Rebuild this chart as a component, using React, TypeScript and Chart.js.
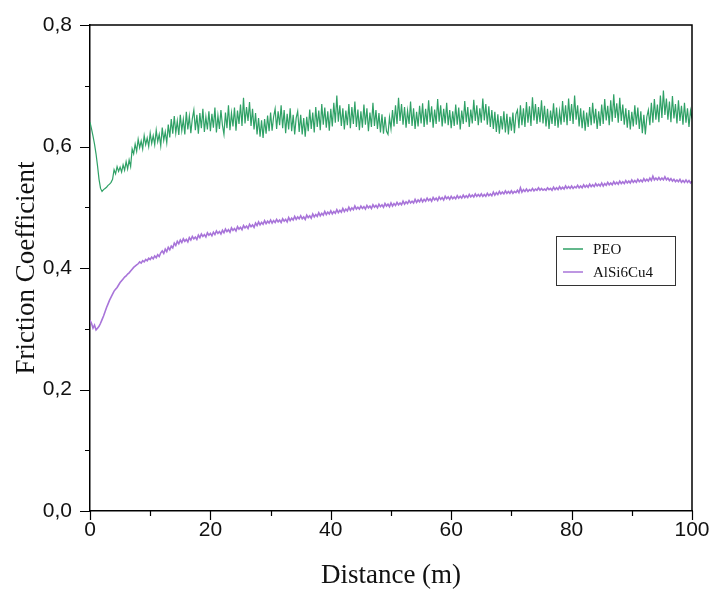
import { useEffect, useRef } from "react";
import { Chart, registerables } from "chart.js";

Chart.register(...registerables);

// Sampling step of the distance axis (m) for the series below
const SAMPLE_STEP_M = 0.25;

const seriesLabels = ["PEO", "AlSi6Cu4"];
const seriesColors = ["#2fa166", "#a874d9"];

// PEO friction coefficient, one value every 0.25 m from 0 to 100 m
const peoValues = [
  0.640, 0.629, 0.617, 0.604, 0.588, 0.568, 0.546, 0.531, 0.526, 0.529, 0.531, 0.533, 0.536, 0.538, 0.541, 0.546, 0.562, 0.555, 0.567, 0.559,
  0.566, 0.558, 0.570, 0.561, 0.575, 0.563, 0.578, 0.567, 0.596, 0.588, 0.604, 0.592, 0.612, 0.598, 0.609, 0.596, 0.618, 0.603, 0.614, 0.600,
  0.622, 0.605, 0.618, 0.603, 0.627, 0.608, 0.620, 0.601, 0.631, 0.610, 0.624, 0.606, 0.636, 0.615, 0.645, 0.621, 0.650, 0.622, 0.642, 0.619,
  0.652, 0.626, 0.645, 0.620, 0.657, 0.628, 0.650, 0.622, 0.646, 0.660, 0.627, 0.652, 0.621, 0.655, 0.630, 0.662, 0.624, 0.649, 0.628, 0.658,
  0.625, 0.654, 0.631, 0.664, 0.623, 0.651, 0.629, 0.660, 0.635, 0.620, 0.656, 0.630, 0.668, 0.627, 0.655, 0.633, 0.664, 0.626, 0.659, 0.637,
  0.669, 0.634, 0.680, 0.638, 0.665, 0.642, 0.673, 0.634, 0.662, 0.628, 0.655, 0.620, 0.647, 0.616, 0.643, 0.614, 0.645, 0.621, 0.651, 0.625,
  0.656, 0.626, 0.649, 0.662, 0.629, 0.658, 0.635, 0.668, 0.630, 0.660, 0.622, 0.654, 0.628, 0.663, 0.625, 0.652, 0.620, 0.647, 0.658, 0.624,
  0.652, 0.620, 0.647, 0.616, 0.649, 0.625, 0.661, 0.629, 0.656, 0.623, 0.665, 0.632, 0.659, 0.627, 0.670, 0.636, 0.664, 0.631, 0.658, 0.626,
  0.662, 0.633, 0.672, 0.639, 0.684, 0.641, 0.668, 0.634, 0.663, 0.628, 0.659, 0.635, 0.670, 0.630, 0.665, 0.637, 0.674, 0.632, 0.661, 0.627,
  0.658, 0.631, 0.669, 0.636, 0.663, 0.625, 0.656, 0.632, 0.672, 0.634, 0.660, 0.629, 0.655, 0.623, 0.653, 0.621, 0.649, 0.625, 0.620, 0.648,
  0.629, 0.660, 0.633, 0.668, 0.637, 0.680, 0.642, 0.670, 0.636, 0.665, 0.631, 0.659, 0.637, 0.674, 0.634, 0.663, 0.629, 0.657, 0.633, 0.667,
  0.638, 0.671, 0.632, 0.662, 0.636, 0.676, 0.640, 0.666, 0.631, 0.661, 0.637, 0.678, 0.641, 0.668, 0.633, 0.662, 0.638, 0.672, 0.635, 0.660,
  0.630, 0.658, 0.634, 0.669, 0.636, 0.664, 0.628, 0.659, 0.637, 0.675, 0.640, 0.665, 0.632, 0.661, 0.638, 0.677, 0.642, 0.668, 0.635, 0.663,
  0.639, 0.679, 0.643, 0.670, 0.636, 0.666, 0.632, 0.660, 0.629, 0.657, 0.624, 0.653, 0.621, 0.650, 0.628, 0.658, 0.623, 0.654, 0.620, 0.649,
  0.626, 0.656, 0.622, 0.653, 0.660, 0.630, 0.668, 0.635, 0.663, 0.632, 0.673, 0.639, 0.666, 0.634, 0.681, 0.643, 0.670, 0.637, 0.665, 0.640,
  0.676, 0.638, 0.667, 0.633, 0.662, 0.629, 0.659, 0.637, 0.671, 0.634, 0.664, 0.631, 0.658, 0.636, 0.675, 0.640, 0.668, 0.635, 0.679, 0.642,
  0.670, 0.637, 0.684, 0.644, 0.668, 0.633, 0.663, 0.630, 0.659, 0.626, 0.656, 0.632, 0.665, 0.635, 0.672, 0.638, 0.662, 0.629, 0.658, 0.634,
  0.669, 0.637, 0.678, 0.643, 0.667, 0.635, 0.676, 0.641, 0.686, 0.647, 0.671, 0.639, 0.680, 0.642, 0.669, 0.636, 0.663, 0.631, 0.660, 0.628,
  0.657, 0.633, 0.668, 0.636, 0.664, 0.629, 0.658, 0.622, 0.652, 0.620, 0.649, 0.660, 0.635, 0.672, 0.639, 0.678, 0.644, 0.669, 0.640, 0.684,
  0.647, 0.692, 0.652, 0.679, 0.644, 0.674, 0.640, 0.683, 0.646, 0.670, 0.638, 0.676, 0.642, 0.667, 0.636, 0.672, 0.639, 0.663, 0.632, 0.659,
  0.646,
];

// AlSi6Cu4 friction coefficient, one value every 0.25 m from 0 to 100 m
const alsiValues = [
  0.314, 0.309, 0.301, 0.306, 0.298, 0.301, 0.304, 0.309, 0.315, 0.321, 0.328, 0.335, 0.341, 0.347, 0.352, 0.357, 0.362, 0.365, 0.368, 0.372,
  0.376, 0.379, 0.382, 0.385, 0.387, 0.390, 0.392, 0.395, 0.398, 0.401, 0.403, 0.405, 0.407, 0.410, 0.408, 0.412, 0.410, 0.414, 0.412, 0.416,
  0.414, 0.418, 0.415, 0.420, 0.417, 0.422, 0.419, 0.425, 0.428, 0.424, 0.431, 0.427, 0.434, 0.430, 0.436, 0.433, 0.441, 0.437, 0.444, 0.440,
  0.446, 0.442, 0.448, 0.444, 0.447, 0.443, 0.450, 0.446, 0.452, 0.448, 0.451, 0.447, 0.454, 0.450, 0.456, 0.452, 0.455, 0.451, 0.458, 0.454,
  0.457, 0.453, 0.459, 0.455, 0.461, 0.457, 0.460, 0.456, 0.462, 0.458, 0.464, 0.460, 0.463, 0.459, 0.466, 0.462, 0.465, 0.461, 0.468, 0.464,
  0.467, 0.463, 0.470, 0.466, 0.469, 0.465, 0.472, 0.468, 0.471, 0.467, 0.474, 0.470, 0.476, 0.471, 0.475, 0.472, 0.478, 0.473, 0.477, 0.474,
  0.479, 0.474, 0.478, 0.475, 0.480, 0.476, 0.479, 0.475, 0.481, 0.477, 0.480, 0.476, 0.483, 0.478, 0.482, 0.479, 0.485, 0.480, 0.484, 0.481,
  0.486, 0.481, 0.484, 0.480, 0.487, 0.483, 0.486, 0.482, 0.489, 0.484, 0.488, 0.485, 0.491, 0.486, 0.490, 0.487, 0.493, 0.488, 0.492, 0.489,
  0.494, 0.489, 0.493, 0.490, 0.496, 0.491, 0.495, 0.492, 0.498, 0.493, 0.497, 0.494, 0.500, 0.495, 0.499, 0.496, 0.502, 0.497, 0.500, 0.497,
  0.502, 0.498, 0.501, 0.497, 0.503, 0.499, 0.502, 0.498, 0.504, 0.500, 0.503, 0.499, 0.505, 0.501, 0.504, 0.500, 0.506, 0.502, 0.505, 0.501,
  0.507, 0.502, 0.506, 0.503, 0.508, 0.504, 0.507, 0.504, 0.510, 0.505, 0.509, 0.506, 0.511, 0.507, 0.510, 0.507, 0.513, 0.508, 0.512, 0.509,
  0.514, 0.509, 0.513, 0.510, 0.515, 0.511, 0.514, 0.510, 0.516, 0.512, 0.515, 0.511, 0.517, 0.513, 0.516, 0.512, 0.518, 0.514, 0.517, 0.513,
  0.518, 0.514, 0.517, 0.514, 0.519, 0.515, 0.518, 0.515, 0.520, 0.516, 0.519, 0.516, 0.521, 0.517, 0.520, 0.517, 0.522, 0.518, 0.521, 0.518,
  0.522, 0.518, 0.521, 0.518, 0.523, 0.519, 0.522, 0.519, 0.525, 0.520, 0.524, 0.521, 0.526, 0.522, 0.525, 0.522, 0.527, 0.523, 0.526, 0.523,
  0.527, 0.523, 0.526, 0.524, 0.528, 0.524, 0.532, 0.525, 0.529, 0.526, 0.530, 0.526, 0.529, 0.527, 0.531, 0.527, 0.530, 0.528, 0.532, 0.528,
  0.531, 0.528, 0.530, 0.528, 0.532, 0.529, 0.531, 0.528, 0.533, 0.529, 0.532, 0.529, 0.534, 0.530, 0.533, 0.530, 0.535, 0.531, 0.534, 0.531,
  0.535, 0.531, 0.534, 0.532, 0.536, 0.532, 0.535, 0.532, 0.537, 0.533, 0.536, 0.533, 0.538, 0.534, 0.537, 0.534, 0.539, 0.535, 0.538, 0.535,
  0.540, 0.535, 0.539, 0.536, 0.541, 0.537, 0.540, 0.537, 0.542, 0.538, 0.541, 0.538, 0.543, 0.539, 0.542, 0.539, 0.544, 0.540, 0.543, 0.540,
  0.545, 0.541, 0.544, 0.541, 0.546, 0.542, 0.545, 0.542, 0.547, 0.543, 0.546, 0.543, 0.548, 0.544, 0.551, 0.545, 0.548, 0.545, 0.549, 0.545,
  0.548, 0.545, 0.550, 0.545, 0.548, 0.544, 0.547, 0.543, 0.546, 0.542, 0.545, 0.542, 0.546, 0.541, 0.544, 0.541, 0.545, 0.541, 0.544, 0.540,
  0.543,
];

const xMajorTicks = [0, 20, 40, 60, 80, 100];
const xMinorTicks = [10, 30, 50, 70, 90];
const yMajorTicks = [0, 0.2, 0.4, 0.6, 0.8];
const yMinorTicks = [0.1, 0.3, 0.5, 0.7];

const xTitle = "Distance (m)";
const yTitle = "Friction Coefficient";

const SERIF = "'Liberation Serif', 'DejaVu Serif', serif";
const SANS = "'Liberation Sans', Arial, sans-serif";

const toPoints = (vals: number[]) =>
  vals.map((v, i) => ({ x: i * SAMPLE_STEP_M, y: v }));

const framePlugin = {
  id: "frameTicksLegend",
  afterDraw(chart: any) {
    const { ctx, chartArea: a, scales } = chart;
    const xs = scales.x;
    const ys = scales.y;
    ctx.save();
    ctx.strokeStyle = "#000";
    ctx.lineWidth = 1.5;
    ctx.beginPath();
    ctx.moveTo(a.left, a.top);
    ctx.lineTo(a.right, a.top);
    ctx.lineTo(a.right, a.bottom);
    ctx.stroke();

    ctx.lineWidth = 1.2;
    ctx.beginPath();
    xMajorTicks.forEach((v) => {
      const px = Math.round(xs.getPixelForValue(v)) + 0.5;
      ctx.moveTo(px, a.bottom);
      ctx.lineTo(px, a.bottom + 9);
    });
    xMinorTicks.forEach((v) => {
      const px = Math.round(xs.getPixelForValue(v)) + 0.5;
      ctx.moveTo(px, a.bottom);
      ctx.lineTo(px, a.bottom + 5);
    });
    yMajorTicks.forEach((v) => {
      const py = Math.round(ys.getPixelForValue(v)) + 0.5;
      ctx.moveTo(a.left, py);
      ctx.lineTo(a.left - 10, py);
    });
    yMinorTicks.forEach((v) => {
      const py = Math.round(ys.getPixelForValue(v)) + 0.5;
      ctx.moveTo(a.left, py);
      ctx.lineTo(a.left - 5, py);
    });
    ctx.stroke();

    // legend box
    const bx = 556, by = 236, bw = 119, bh = 49;
    ctx.fillStyle = "#fff";
    ctx.fillRect(bx, by, bw, bh);
    ctx.strokeStyle = "#333";
    ctx.lineWidth = 1;
    ctx.strokeRect(bx + 0.5, by + 0.5, bw, bh);
    ctx.font = `15px ${SERIF}`;
    ctx.textBaseline = "middle";
    ctx.textAlign = "left";
    chart.data.datasets.forEach((ds: any, i: number) => {
      const ly = by + 13 + i * 23;
      ctx.strokeStyle = ds.borderColor;
      ctx.lineWidth = 1.5;
      ctx.beginPath();
      ctx.moveTo(bx + 7, ly);
      ctx.lineTo(bx + 27, ly);
      ctx.stroke();
      ctx.fillStyle = "#111";
      ctx.fillText(ds.label, bx + 37, ly + 1);
    });
    ctx.restore();
  },
};

export default function App() {
  const ref = useRef<HTMLCanvasElement | null>(null);

  useEffect(() => {
    if (!ref.current) return;
    const chart = new Chart(ref.current, {
      type: "line",
      data: {
        datasets: [
          {
            label: seriesLabels[0],
            data: toPoints(peoValues),
            borderColor: seriesColors[0],
            borderWidth: 1.2,
            pointRadius: 0,
            tension: 0,
          },
          {
            label: seriesLabels[1],
            data: toPoints(alsiValues),
            borderColor: seriesColors[1],
            borderWidth: 1.6,
            pointRadius: 0,
            tension: 0,
          },
        ],
      },
      options: {
        responsive: false,
        animation: false,
        layout: { padding: { top: 25, right: 18, left: 0, bottom: 0 } },
        plugins: {
          legend: { display: false },
          tooltip: { enabled: false },
        },
        scales: {
          x: {
            type: "linear",
            min: 0,
            max: 100,
            afterFit: (s: any) => {
              s.height = 78;
              s.paddingLeft = 0;
              s.paddingRight = 0;
            },
            afterBuildTicks: (s: any) => {
              s.ticks = xMajorTicks.map((v) => ({ value: v }));
            },
            ticks: {
              color: "#111",
              font: { family: SANS, size: 21 },
              padding: 7,
              maxRotation: 0,
              callback: (v: any) => String(v),
            },
            grid: { display: false, drawTicks: false },
            border: { display: true, color: "#000", width: 1.5 },
            title: {
              display: true,
              text: xTitle,
              color: "#111",
              font: { family: SERIF, size: 27, lineHeight: 1 },
              padding: { top: 0, bottom: 0 },
            },
          },
          y: {
            type: "linear",
            min: 0,
            max: 0.8,
            afterFit: (s: any) => {
              s.width = 90;
              s.paddingTop = 0;
              s.paddingBottom = 0;
            },
            afterBuildTicks: (s: any) => {
              s.ticks = yMajorTicks.map((v) => ({ value: v }));
            },
            ticks: {
              color: "#111",
              font: { family: SANS, size: 21 },
              padding: 18,
              callback: (v: any) => Number(v).toFixed(1).replace(".", ","),
            },
            grid: { display: false, drawTicks: false },
            border: { display: true, color: "#000", width: 1.5 },
            title: {
              display: true,
              text: yTitle,
              color: "#111",
              font: { family: SERIF, size: 27, lineHeight: 1.2 },
              padding: { top: 11, bottom: 0 },
            },
          },
        },
      },
      plugins: [framePlugin],
    } as any);
    return () => chart.destroy();
  }, []);

  return (
    <div
      style={{
        position: "fixed",
        left: 0,
        top: 0,
        width: 710,
        height: 589,
        background: "#fff",
      }}
    >
      <canvas ref={ref} width={710} height={589} style={{ display: "block" }} />
    </div>
  );
}
